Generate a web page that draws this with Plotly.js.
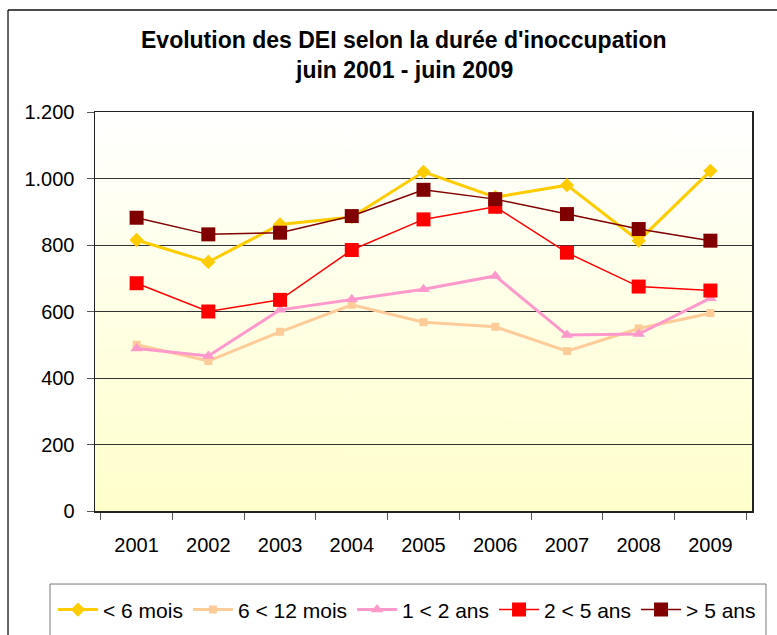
<!DOCTYPE html>
<html>
<head>
<meta charset="utf-8">
<script src="https://cdn.plot.ly/plotly-3.0.1.min.js"></script>
<style>
html,body{margin:0;padding:0;background:#fff;}
#chart{width:777px;height:635px;}
</style>
</head>
<body>
<div id="chart"></div>
<script>
const years = ['2001','2002','2003','2004','2005','2006','2007','2008','2009'];
const moins6mois = [815, 749, 862, 884, 1020, 944, 980, 813, 1023];
const mois6a12 = [500, 451, 539, 620, 568, 554, 481, 549, 595];
const ans1a2 = [489, 466, 605, 637, 667, 707, 529, 532, 640];
const ans2a5 = [685, 600, 635, 785, 877, 915, 777, 675, 663];
const plus5ans = [882, 832, 837, 887, 966, 938, 893, 848, 813];
const seriesNames = ['< 6 mois', '6 < 12 mois', '1 < 2 ans', '2 < 5 ans', '> 5 ans'];
const titleLines = ["Evolution des DEI selon la durée d'inoccupation", "juin 2001 - juin 2009"];

// gradient background image
const cv = document.createElement('canvas');
cv.width = 4; cv.height = 256;
const ctx = cv.getContext('2d');
const grd = ctx.createLinearGradient(0, 0, 0, 256);
grd.addColorStop(0, '#FFFFFF');
grd.addColorStop(1, '#FFFFCC');
ctx.fillStyle = grd;
ctx.fillRect(0, 0, 4, 256);
const bgURL = cv.toDataURL('image/png');

function tr(name, y, color, width, symbol, size) {
  return {
    type: 'scatter', mode: 'lines+markers', name: name,
    x: years, y: y,
    line: {color: color, width: width},
    marker: {color: color, symbol: symbol, size: size, line: {width: 0}}
  };
}

const data = [
  tr(seriesNames[0], moins6mois, '#FFCC00', 3, 'diamond', 11),
  tr(seriesNames[1], mois6a12, '#FFCC99', 3, 'square', 8),
  tr(seriesNames[2], ans1a2, '#FF99CC', 3, 'triangle-up', 11),
  tr(seriesNames[3], ans2a5, '#FF0000', 1.5, 'square', 14),
  tr(seriesNames[4], plus5ans, '#800000', 1.5, 'square', 14)
];

const font = {family: 'Liberation Sans, Arial, sans-serif', color: '#000'};

const layout = {
  width: 777, height: 635,
  margin: {l: 95, r: 25, t: 112, b: 124, autoexpand: false},
  paper_bgcolor: '#FFFFFF',
  plot_bgcolor: 'rgba(0,0,0,0)',
  separators: ',.',
  font: Object.assign({size: 20}, font),
  showlegend: true,
  legend: {
    orientation: 'h',
    x: -0.064, xanchor: 'left',
    y: -0.248, yanchor: 'middle',
    font: Object.assign({size: 21}, font),
    bgcolor: 'rgba(0,0,0,0)',
    borderwidth: 0,
    itemwidth: 40,
    tracegroupgap: 0
  },
  annotations: [
    {text: '<b>' + titleLines[0] + '</b>', xref: 'paper', yref: 'paper', x: 0.4703, y: 1.1805,
     xanchor: 'center', yanchor: 'middle', showarrow: false, font: Object.assign({size: 23}, font)},
    {text: '<b>' + titleLines[1] + '</b>', xref: 'paper', yref: 'paper', x: 0.4703, y: 1.1053,
     xanchor: 'center', yanchor: 'middle', showarrow: false, font: Object.assign({size: 23}, font)}
  ],
  xaxis: {
    type: 'category',
    tickson: 'boundaries',
    ticks: 'outside', ticklen: 7, tickcolor: '#555', tickwidth: 1,
    ticklabelstandoff: 15,
    showline: true, linecolor: '#222', linewidth: 1.5, mirror: true,
    showgrid: false,
    zeroline: false,
    tickfont: Object.assign({size: 20}, font),
    fixedrange: true
  },
  yaxis: {
    range: [0, 1200],
    tickvals: [0, 200, 400, 600, 800, 1000, 1200],
    tickformat: ',d',
    separatethousands: true,
    ticks: 'outside', ticklen: 7, tickcolor: '#555', tickwidth: 1,
    ticklabelstandoff: 8,
    showline: true, linecolor: '#222', linewidth: 1.5, mirror: true,
    showgrid: true, gridcolor: '#333', gridwidth: 1,
    zeroline: false,
    tickfont: Object.assign({size: 20}, font),
    fixedrange: true
  },
  images: [{
    source: bgURL, xref: 'paper', yref: 'paper',
    x: 0, y: 1, sizex: 1, sizey: 1,
    sizing: 'stretch', xanchor: 'left', yanchor: 'top', layer: 'below'
  }],
  shapes: [
    {type: 'line', xref: 'paper', yref: 'paper', x0: -0.1324, x1: -0.1324, y0: 1.2556, y1: -0.40, line: {color: '#333', width: 1.5}},
    {type: 'line', xref: 'paper', yref: 'paper', x0: -0.1324, x1: 1.1, y0: 1.2556, y1: 1.2556, line: {color: '#111', width: 1.5}},
    {type: 'rect', xref: 'paper', yref: 'paper', x0: -0.0685, x1: 1.0213, y0: -0.183, y1: -0.40, line: {color: '#777', width: 1}}
  ]
};

Plotly.newPlot('chart', data, layout, {displayModeBar: false, staticPlot: true});
</script>
</body>
</html>
